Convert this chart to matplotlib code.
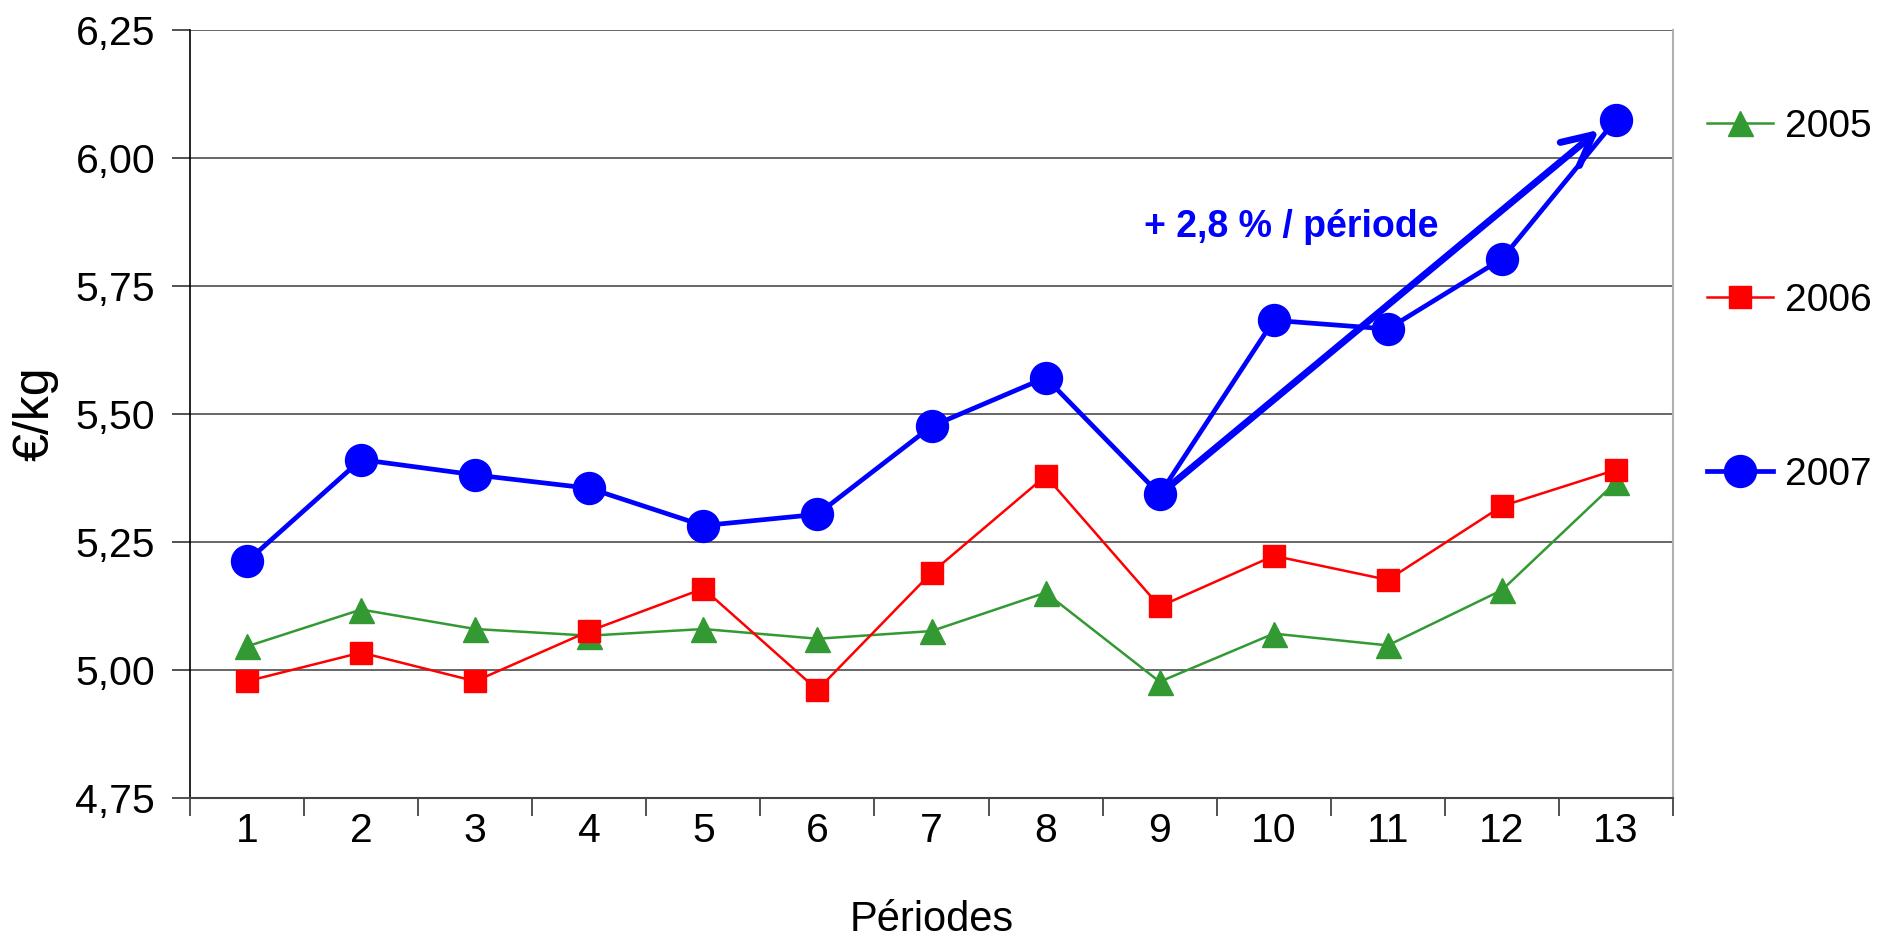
import numpy as np
import matplotlib
matplotlib.use("Agg")
import matplotlib.pyplot as plt

plt.rcParams['font.family'] = ['Liberation Sans', 'DejaVu Sans']

# Data (EUR/kg per period)
periods = list(range(1, 14))
prix_2005 = [5.046, 5.118, 5.080, 5.067, 5.080, 5.061, 5.076, 5.151, 4.977, 5.071, 5.048, 5.156, 5.367]
prix_2006 = [4.978, 5.034, 4.978, 5.076, 5.159, 4.961, 5.190, 5.379, 5.124, 5.223, 5.176, 5.320, 5.391]
prix_2007 = [5.212, 5.411, 5.381, 5.355, 5.282, 5.304, 5.476, 5.571, 5.343, 5.683, 5.666, 5.803, 6.075]
y_ticks = [4.75, 5.00, 5.25, 5.50, 5.75, 6.00, 6.25]

# Trend arrow (start at period 9, end near period 13)
trend_start = (9, 5.343)
trend_end = (12.85, 6.055)
trend_label = "+ 2,8 % / période"

fig = plt.figure(figsize=(18.79, 9.44), dpi=100)
ax = fig.add_axes([0.1011, 0.1547, 0.7893, 0.8135])

# grid lines behind the data
for yv in y_ticks[1:]:
    ax.axhline(yv, color='#5a5a5a', lw=1.3, zorder=1)

ax.plot(periods, prix_2005, color='#339933', lw=1.8, marker='^', markersize=18,
        label='2005', zorder=3)
ax.plot(periods, prix_2006, color='#ff0000', lw=1.8, marker='s', markersize=15.5,
        label='2006', zorder=4)
ax.plot(periods, prix_2007, color='#0000ff', lw=3.4, marker='o', markersize=23,
        label='2007', zorder=5)

ax.annotate('', xy=trend_end, xytext=trend_start,
            arrowprops=dict(arrowstyle='->', lw=5, color='#0000ff',
                            mutation_scale=54, shrinkA=0, shrinkB=0),
            zorder=6)
ax.text(10.15, 5.865, trend_label, color='#0000ff', fontsize=27,
        fontweight='bold', ha='center', va='center', zorder=6)

ax.set_xlim(0.5, 13.5)
ax.set_ylim(4.75, 6.25)

ax.set_yticks(y_ticks)
ax.set_yticklabels([f"{v:.2f}".replace('.', ',') for v in y_ticks])
ax.set_xticks(periods)
ax.set_xticklabels([str(p) for p in periods])
ax.set_xticks(np.arange(0.5, 14, 1), minor=True)

ax.tick_params(axis='y', labelsize=29.5, length=13, width=1.2, pad=12, color='#333333')
ax.tick_params(axis='x', which='major', labelsize=29.5, length=0, pad=10)
ax.tick_params(axis='x', which='minor', length=13, width=1.2, color='#333333')

ax.spines['top'].set_visible(False)
ax.spines['left'].set_color('#000000')
ax.spines['left'].set_linewidth(1.2)
ax.spines['bottom'].set_color('#444444')
ax.spines['bottom'].set_linewidth(1.5)
ax.spines['right'].set_color('#b0b0b0')
ax.spines['right'].set_linewidth(1.5)

ax.set_xlabel('Périodes', fontsize=30, labelpad=36)
ax.set_ylabel('€/kg', fontsize=36, labelpad=12)

leg = fig.legend(loc='upper left', bbox_to_anchor=(0.9085, 0.885), frameon=False,
                 fontsize=28, handlelength=1.7, handletextpad=0.3,
                 labelspacing=3.55, borderpad=0, borderaxespad=0)

fig.savefig('out.png', dpi=100)
